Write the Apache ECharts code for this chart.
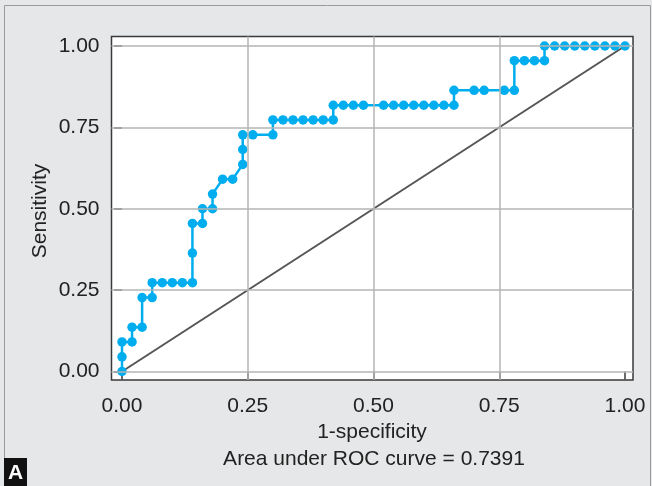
<!DOCTYPE html>
<html><head><meta charset="utf-8">
<script src="https://cdn.jsdelivr.net/npm/echarts@6/dist/echarts.min.js"></script>
<style>html,body{margin:0;padding:0;background:#fff}#c{width:652px;height:486px}</style>
</head><body><div id="c"></div>
<script>
// ---- data ----
const fpr = [0,0,0,0.02,0.02,0.04,0.04,0.06,0.06,0.08,0.10,0.12,0.14,0.14,0.14,0.16,0.16,0.18,0.18,0.20,0.22,0.24,0.24,0.24,0.26,0.30,0.30,0.32,0.34,0.36,0.38,0.40,0.42,0.42,0.44,0.46,0.48,0.52,0.54,0.56,0.58,0.60,0.62,0.64,0.66,0.66,0.70,0.72,0.76,0.78,0.78,0.80,0.82,0.84,0.84,0.86,0.88,0.90,0.92,0.94,0.96,0.98,1.00];
const sens = [0,0.045,0.091,0.091,0.136,0.136,0.227,0.227,0.273,0.273,0.273,0.273,0.273,0.364,0.455,0.455,0.5,0.5,0.545,0.591,0.591,0.636,0.682,0.727,0.727,0.727,0.773,0.773,0.773,0.773,0.773,0.773,0.773,0.818,0.818,0.818,0.818,0.818,0.818,0.818,0.818,0.818,0.818,0.818,0.818,0.864,0.864,0.864,0.864,0.864,0.955,0.955,0.955,0.955,1,1,1,1,1,1,1,1,1];
const refX = [0,1];
const refY = [0,1];
const xTickValues = [0,0.25,0.5,0.75,1];
const yTickValues = [0,0.25,0.5,0.75,1];
const xGridValues = [0.25,0.5,0.75];
const yGridValues = [0,0.25,0.5,0.75,1];
const xTitle = '1-specificity';
const yTitle = 'Sensitivity';
const note = 'Area under ROC curve = 0.7391';
const panel = 'A';

// ---- layout ----
const FONT = "'Liberation Sans', Arial, Helvetica, sans-serif";
const D = {left:122, top:46, width:503, height:325.5};      // data area (0..1)
const F = {left:111.5, top:36.5, right:633, bottom:380};     // plot frame
const fx0 = -(D.left - F.left) / D.width;
const fx1 = 1 + (F.right - (D.left + D.width)) / D.width;
const fy0 = -(F.bottom - (D.top + D.height)) / D.height;
const fy1 = 1 + (D.top - F.top) / D.height;

const roc = fpr.map((x, i) => [x, sens[i]]);
const diag = refX.map((x, i) => [x, refY[i]]);

const chart = echarts.init(document.getElementById('c'), null, {renderer: 'canvas'});
chart.setOption({
  animation: false,
  backgroundColor: '#e6e7e8',
  textStyle: {fontFamily: FONT},
  grid: [
    {left: F.left, top: F.top, width: F.right - F.left, height: F.bottom - F.top,
     show: true, backgroundColor: '#ffffff', borderColor: '#3a3a3a', borderWidth: 1.5},
    {left: D.left, top: D.top, width: D.width, height: D.height}
  ],
  xAxis: [
    {gridIndex: 0, type: 'value', min: fx0, max: fx1, show: false},
    {gridIndex: 1, type: 'value', min: 0, max: 1, interval: 0.25, offset: F.bottom - (D.top + D.height),
     axisLine: {show: false}, splitLine: {show: false},
     axisTick: {show: true, length: 8, lineStyle: {color: '#3a3a3a', width: 1.5}},
     axisLabel: {margin: 16, fontSize: 21, color: '#222', fontFamily: FONT, formatter: v => v.toFixed(2)}}
  ],
  yAxis: [
    {gridIndex: 0, type: 'value', min: fy0, max: fy1, show: false},
    {gridIndex: 1, type: 'value', min: 0, max: 1, interval: 0.25, offset: D.left - F.left,
     axisLine: {show: false}, splitLine: {show: false},
     axisTick: {show: true, length: 8, lineStyle: {color: '#3a3a3a', width: 1.5}},
     axisLabel: {margin: 12, fontSize: 21, color: '#222', fontFamily: FONT, formatter: v => v.toFixed(2)}}
  ],
  series: [
    {type: 'line', xAxisIndex: 0, yAxisIndex: 0, data: [], silent: true, z: 1,
     markLine: {symbol: 'none', silent: true, animation: false, label: {show: false},
       lineStyle: {color: '#b4b4b4', width: 1.5, type: 'solid'},
       data: xGridValues.map(v => ({xAxis: v})).concat(yGridValues.map(v => ({yAxis: v})))}},
    {type: 'line', xAxisIndex: 1, yAxisIndex: 1, data: diag, symbol: 'none', z: 2,
     lineStyle: {color: '#555555', width: 2}},
    {type: 'line', xAxisIndex: 1, yAxisIndex: 1, data: roc, symbol: 'circle', symbolSize: 9.5, z: 3,
     itemStyle: {color: '#00aeef'}, lineStyle: {color: '#00aeef', width: 2.5}}
  ],
  graphic: [
    {type: 'rect', shape: {x: 4.5, y: 5.5, width: 646, height: 482}, style: {fill: 'none', stroke: '#9a9a9a', lineWidth: 1}, silent: true},
    {type: 'text', x: 372, y: 432, style: {text: xTitle, font: '21px ' + FONT, fill: '#222', textAlign: 'center', textVerticalAlign: 'middle'}},
    {type: 'text', x: 374, y: 459, style: {text: note, font: '21px ' + FONT, fill: '#222', textAlign: 'center', textVerticalAlign: 'middle'}},
    {type: 'text', x: 40, y: 211, rotation: Math.PI / 2, style: {text: yTitle, font: '21px ' + FONT, fill: '#222', textAlign: 'center', textVerticalAlign: 'middle'}},
    {type: 'rect', shape: {x: 4, y: 458, width: 23, height: 28}, style: {fill: '#111'}},
    {type: 'text', x: 15.5, y: 473, style: {text: panel, font: 'bold 21px ' + FONT, fill: '#fff', textAlign: 'center', textVerticalAlign: 'middle'}}
  ]
});
</script>
</body></html>
